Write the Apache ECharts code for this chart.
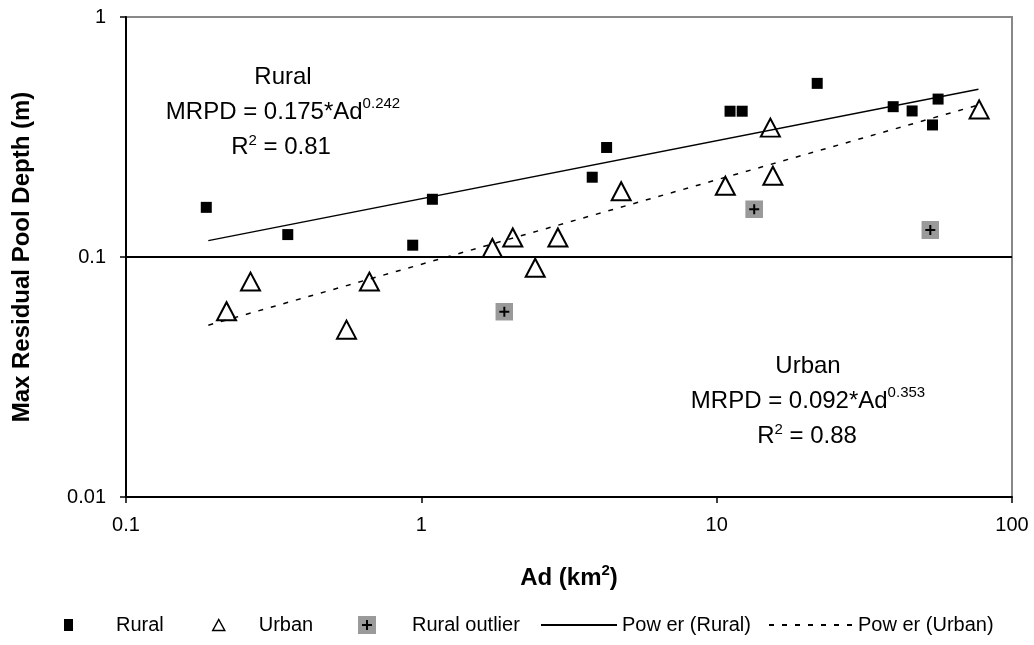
<!DOCTYPE html>
<html>
<head>
<meta charset="utf-8">
<script src="https://cdn.jsdelivr.net/npm/echarts@6/dist/echarts.min.js"></script>
<style>
  html, body { margin: 0; padding: 0; background: #fff; }
  #chart { width: 1034px; height: 645px; }
</style>
</head>
<body>
<div id="chart"></div>
<script>
// drainage area (km2) and max residual pool depth (m)
const ruralAd = [0.187, 0.353, 0.935, 1.09, 3.79, 4.24, 11.1, 12.2, 21.9, 39.6, 45.9, 53.8, 56.2];
const ruralDepth = [0.161, 0.124, 0.112, 0.174, 0.215, 0.286, 0.405, 0.405, 0.529, 0.423, 0.406, 0.355, 0.455];

const urbanAd = [0.219, 0.264, 0.558, 0.667, 1.74, 2.04, 2.43, 2.90, 4.75, 10.7, 15.2, 15.5, 77.4];
const urbanDepth = [0.0594, 0.079, 0.0498, 0.079, 0.109, 0.1206, 0.0902, 0.1206, 0.188, 0.198, 0.346, 0.218, 0.412];

const outlierAd = [1.91, 13.4, 52.9];
const outlierDepth = [0.0592, 0.158, 0.1296];

// power trendline ends (straight on log-log axes)
const fitAd = [0.19, 77];
const ruralFitDepth = [0.117, 0.50];
const urbanFitDepth = [0.052, 0.43];

const xTicks = [0.1, 1, 10, 100];
const yTicks = [0.01, 0.1, 1];

const ff = '"Liberation Sans", Arial, sans-serif';

function pairs(xs, ys) {
    return xs.map(function (x, i) { return [x, ys[i]]; });
}

function tickLabel(v) {
    return String(+Number(v).toPrecision(4));
}

const outlierSvg = "<svg xmlns='http://www.w3.org/2000/svg' width='18' height='18'>" +
    "<rect width='18' height='18' fill='#9a9a9a'/>" +
    "<path d='M9 4v10M4 9h10' stroke='#000' stroke-width='2'/></svg>";
const outlierIcon = 'image://data:image/svg+xml;charset=utf-8,' + encodeURIComponent(outlierSvg);

const eqRich = {
    m: { fontSize: 24, fontFamily: ff, lineHeight: 32, fill: '#000' },
    s: { fontSize: 15, fontFamily: ff, lineHeight: 15, verticalAlign: 'top', fill: '#000' },
    r: { fontSize: 24, fontFamily: ff, lineHeight: 28, fill: '#000' }
};

function note(x, y, text) {
    return {
        type: 'text', x: x, y: y, z: 10,
        style: {
            text: text, rich: eqRich, fontSize: 24, fontFamily: ff, fill: '#000',
            align: 'center', verticalAlign: 'middle'
        }
    };
}

function legendItem(name, left, icon, w, h, pad, extra) {
    const lg = {
        data: [name], left: left, top: 615, padding: 0, orient: 'horizontal',
        itemWidth: w, itemHeight: h, selectedMode: false,
        textStyle: { fontSize: 20, fontFamily: ff, color: '#000', padding: [0, 0, 0, pad] }
    };
    if (icon) lg.icon = icon;
    return Object.assign(lg, extra || {});
}

const chart = echarts.init(document.getElementById('chart'));

chart.setOption({
    animation: false,
    backgroundColor: '#fff',
    textStyle: { fontFamily: ff },
    grid: {
        left: 126, right: 22, top: 17, bottom: 148,
        show: true, borderColor: '#888', borderWidth: 2
    },
    xAxis: {
        type: 'log', logBase: 10, min: xTicks[0], max: xTicks[xTicks.length - 1],
        name: '{b|Ad (km}{s|2}{b|)}',
        nameLocation: 'middle', nameGap: 66,
        nameTextStyle: {
            rich: {
                b: { fontSize: 24, fontWeight: 'bold', fontFamily: ff, color: '#000', lineHeight: 30 },
                s: { fontSize: 15, fontWeight: 'bold', fontFamily: ff, color: '#000', lineHeight: 15, verticalAlign: 'top' }
            }
        },
        axisLine: { lineStyle: { color: '#000', width: 2 } },
        axisTick: { show: true, length: 6, lineStyle: { color: '#000', width: 1.5 } },
        axisLabel: { fontSize: 20, color: '#000', margin: 18, formatter: tickLabel },
        splitLine: { show: false },
        minorTick: { show: false }
    },
    yAxis: {
        type: 'log', logBase: 10, min: yTicks[0], max: yTicks[yTicks.length - 1],
        name: 'Max Residual Pool Depth (m)',
        nameLocation: 'middle', nameGap: 92,
        nameTextStyle: { fontSize: 24, fontWeight: 'bold', fontFamily: ff, color: '#000' },
        axisLine: { show: true, lineStyle: { color: '#000', width: 2 } },
        axisTick: { show: true, length: 6, lineStyle: { color: '#000', width: 1.5 } },
        axisLabel: { fontSize: 20, color: '#000', margin: 20, formatter: tickLabel },
        splitLine: { show: true, lineStyle: { color: ['#000', '#000', '#888'], width: 2 } },
        minorTick: { show: false }
    },
    legend: [
        legendItem('Rural', 64, 'rect', 9, 12, 38),
        legendItem('Urban', 212, 'triangle', 12, 11, 29, { itemStyle: { borderWidth: 1.5 } }),
        legendItem('Rural outlier', 358, outlierIcon, 18, 19, 31),
        legendItem('Pow er (Rural)', 540, null, 76, 14, 0, { itemStyle: { opacity: 0 } }),
        legendItem('Pow er (Urban)', 768, null, 84, 14, 0, { itemStyle: { opacity: 0 } })
    ],
    graphic: [
        note(283, 77, 'Rural'),
        note(283, 112, '{m|MRPD = 0.175*Ad}{s|0.242}'),
        note(281, 147, '{r|R}{s|2}{r| = 0.81}'),
        note(808, 366, 'Urban'),
        note(808, 401, '{m|MRPD = 0.092*Ad}{s|0.353}'),
        note(807, 436, '{r|R}{s|2}{r| = 0.88}')
    ],
    series: [
        {
            name: 'Rural', type: 'scatter', data: pairs(ruralAd, ruralDepth),
            symbol: 'rect', symbolSize: 11, itemStyle: { color: '#000', opacity: 1 }
        },
        {
            name: 'Urban', type: 'scatter', data: pairs(urbanAd, urbanDepth),
            symbol: 'triangle', symbolSize: [19, 18],
            itemStyle: { color: '#fff', borderColor: '#000', borderWidth: 2, opacity: 1 }
        },
        {
            name: 'Rural outlier', type: 'scatter', data: pairs(outlierAd, outlierDepth),
            symbol: outlierIcon, symbolSize: 18, itemStyle: { color: '#9a9a9a', opacity: 1 }
        },
        {
            name: 'Pow er (Rural)', type: 'line', data: pairs(fitAd, ruralFitDepth),
            symbol: 'none', itemStyle: { color: '#000' },
            lineStyle: { color: '#000', width: 1.5 }
        },
        {
            name: 'Pow er (Urban)', type: 'line', data: pairs(fitAd, urbanFitDepth),
            symbol: 'none', itemStyle: { color: '#000' },
            lineStyle: { color: '#000', width: 1.5, type: [5, 8] }
        }
    ]
});
</script>
</body>
</html>
